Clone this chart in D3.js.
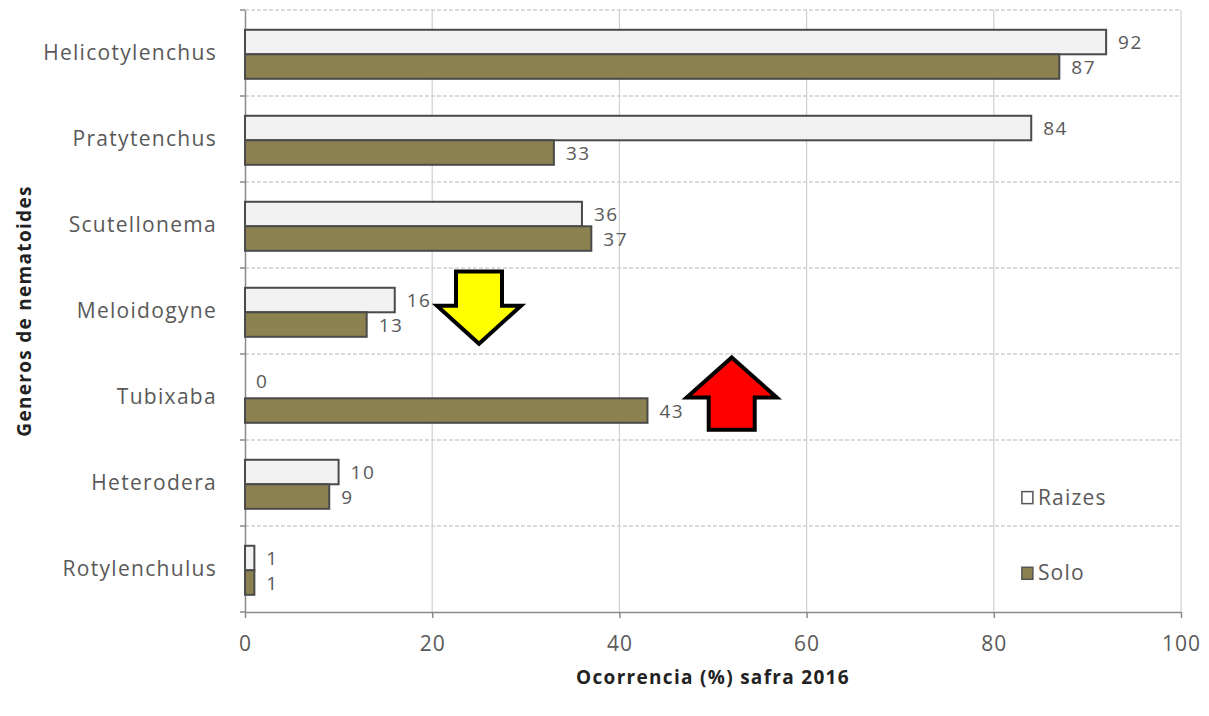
<!DOCTYPE html>
<html>
<head>
<meta charset="utf-8">
<script src="https://cdn.jsdelivr.net/npm/d3@7"></script>
<style>
  body { margin: 0; background: #fff; }
  svg text { font-family: "Open Sans", Lato, sans-serif; }
</style>
</head>
<body>
<svg id="chart" width="1209" height="716"></svg>
<script>
const genera = ["Helicotylenchus", "Pratytenchus", "Scutellonema", "Meloidogyne", "Tubixaba", "Heterodera", "Rotylenchulus"];
const raizes = [92, 84, 36, 16, 0, 10, 1];
const solo = [87, 33, 37, 13, 43, 9, 1];
const seriesNames = ["Raizes", "Solo"];
const xTicks = [0, 20, 40, 60, 80, 100];

const svg = d3.select("#chart");
const margin = { top: 10, right: 28, bottom: 104, left: 245 };
const innerWidth = 1209 - margin.left - margin.right;
const innerHeight = 716 - margin.top - margin.bottom;

const colors = { Raizes: "#f2f2f2", Solo: "#8c8150" };

const rows = genera.map((g, i) => ({ genus: g, Raizes: raizes[i], Solo: solo[i] }));

const x = d3.scaleLinear().domain([0, 100]).range([0, innerWidth]);
const y = d3.scaleBand().domain(genera).range([0, innerHeight]);
const y1 = d3.scaleBand().domain(seriesNames)
  .range([y.bandwidth() * 0.23, y.bandwidth() * 0.80]).padding(0);

const g = svg.append("g").attr("transform", `translate(${margin.left},${margin.top})`);

// vertical grid
g.append("g").selectAll("line")
  .data(xTicks.slice(1))
  .join("line")
  .attr("x1", d => x(d)).attr("x2", d => x(d))
  .attr("y1", 0).attr("y2", innerHeight)
  .attr("stroke", "#d0d0d0").attr("stroke-width", 1.2);

// horizontal dashed grid at band edges
const edges = genera.map(d => y(d)).concat([innerHeight]);
g.append("g").selectAll("line")
  .data(edges.slice(0, -1))
  .join("line")
  .attr("x1", 0).attr("x2", innerWidth)
  .attr("y1", d => d).attr("y2", d => d)
  .attr("stroke", "#cfcfcf").attr("stroke-width", 1.5)
  .attr("stroke-dasharray", "4,2");

// y axis
const yAxis = g.append("g")
  .call(d3.axisLeft(y).tickSize(0).tickPadding(28));
yAxis.select(".domain").attr("stroke", "#8a8a8a").attr("stroke-width", 1.5);
yAxis.selectAll("text")
  .attr("font-size", 21).attr("letter-spacing", "1.3px").attr("fill", "#595959");
g.append("g").selectAll("line")
  .data(edges)
  .join("line")
  .attr("x1", -5).attr("x2", 0)
  .attr("y1", d => d).attr("y2", d => d)
  .attr("stroke", "#8a8a8a").attr("stroke-width", 1.5);

// x axis
const xAxis = g.append("g")
  .attr("transform", `translate(0,${innerHeight})`)
  .call(d3.axisBottom(x).tickValues(xTicks).tickSize(6).tickSizeOuter(0).tickPadding(18));
xAxis.select(".domain").attr("stroke", "#8a8a8a").attr("stroke-width", 1.5);
xAxis.selectAll(".tick line").attr("stroke", "#8a8a8a").attr("stroke-width", 1.5);
xAxis.selectAll("text").attr("font-size", 21).attr("letter-spacing", "1px").attr("fill", "#595959");

// bars
const groups = g.selectAll("g.bar-group")
  .data(rows)
  .join("g")
  .attr("class", "bar-group")
  .attr("transform", d => `translate(0,${y(d.genus)})`);

groups.selectAll("rect")
  .data(d => seriesNames.map(s => ({ s, v: d[s] })))
  .join("rect")
  .attr("x", 0)
  .attr("y", d => y1(d.s))
  .attr("width", d => x(d.v))
  .attr("height", y1.bandwidth())
  .attr("fill", d => colors[d.s])
  .attr("stroke", d => d.v > 0 ? "#4a4a4a" : "none")
  .attr("stroke-width", 2);

groups.selectAll("text")
  .data(d => seriesNames.map(s => ({ s, v: d[s] })))
  .join("text")
  .attr("x", d => x(d.v) + (d.v > 0 ? 12 : 11))
  .attr("y", d => y1(d.s) + y1.bandwidth() / 2 + (d.v > 0 ? 7 : 2))
  .attr("font-size", 19)
  .attr("letter-spacing", "1.5px")
  .attr("fill", "#595959")
  .text(d => d.v);

// arrows (annotations)
function arrowPath(cx, top, bottom, shaftW, headW, headLen, down) {
  const sw = shaftW / 2, hw = headW / 2;
  if (down) {
    const hb = bottom - headLen;
    return `M${cx - sw},${top} L${cx + sw},${top} L${cx + sw},${hb} L${cx + hw},${hb} L${cx},${bottom} L${cx - hw},${hb} L${cx - sw},${hb} Z`;
  }
  const ht = top + headLen;
  return `M${cx},${top} L${cx + hw},${ht} L${cx + sw},${ht} L${cx + sw},${bottom} L${cx - sw},${bottom} L${cx - sw},${ht} L${cx - hw},${ht} Z`;
}
const yb = y.bandwidth();
g.append("path")
  .attr("d", arrowPath(x(25), y("Meloidogyne") + 0.04 * yb, y("Meloidogyne") + 0.88 * yb, 46, 84, 38, true))
  .attr("fill", "#ffff00").attr("stroke", "#000").attr("stroke-width", 4).attr("stroke-linejoin", "miter");
g.append("path")
  .attr("d", arrowPath(x(52), y("Tubixaba") + 0.04 * yb, y("Tubixaba") + 0.88 * yb, 46, 90, 40, false))
  .attr("fill", "#ff0000").attr("stroke", "#000").attr("stroke-width", 4).attr("stroke-linejoin", "miter");

// legend
const legend = g.append("g").attr("transform", `translate(${x(83)},0)`);
seriesNames.forEach(s => {
  const ly = s === "Raizes" ? y("Heterodera") + yb * 0.67 : y("Rotylenchulus") + yb * 0.55;
  legend.append("rect")
    .attr("x", 0).attr("y", ly - 6)
    .attr("width", 11).attr("height", 12)
    .attr("fill", s === "Raizes" ? "#fff" : colors.Solo)
    .attr("stroke", "#555").attr("stroke-width", 1.5);
  legend.append("text")
    .attr("x", 16).attr("y", ly + 7)
    .attr("font-size", 21).attr("letter-spacing", "1.2px").attr("fill", "#595959")
    .text(s);
});

// axis titles
svg.append("text")
  .attr("x", margin.left + innerWidth / 2)
  .attr("y", 684)
  .attr("text-anchor", "middle")
  .attr("font-size", 19).attr("letter-spacing", "1.3px")
  .attr("font-weight", "bold").attr("fill", "#222")
  .text("Ocorrencia (%) safra 2016");

svg.append("text")
  .attr("transform", `translate(31,${margin.top + innerHeight / 2}) rotate(-90)`)
  .attr("text-anchor", "middle")
  .attr("font-size", 19).attr("letter-spacing", "1.3px")
  .attr("font-weight", "bold").attr("fill", "#222")
  .text("Generos de nematoides");
</script>
</body>
</html>
